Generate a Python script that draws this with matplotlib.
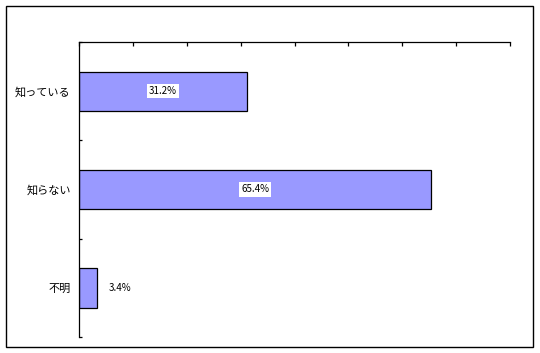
import matplotlib.pyplot as plt
from matplotlib.patches import Rectangle

plt.rcParams['font.family'] = ['Noto Sans CJK JP', 'DejaVu Sans']

# data
categories = ['知っている', '知らない', '不明']
values = [31.2, 65.4, 3.4]
value_labels = ['31.2%', '65.4%', '3.4%']

fig = plt.figure(figsize=(5.4, 3.53), dpi=100)

# outer frame of the chart area
fig.patches.append(Rectangle((5.5 / 540, 1 - 347 / 353), 527 / 540, 341.5 / 353,
                             transform=fig.transFigure, fill=False,
                             edgecolor='black', linewidth=1.0))

ax = fig.add_axes([79 / 540, 1 - 337 / 353, 431 / 540, 295 / 353])

y = list(range(len(categories)))
ax.barh(y, values, height=0.4, color='#9999FF', edgecolor='black', linewidth=0.9)

ax.set_xlim(0, 80)
ax.set_ylim(2.5, -0.5)

# spines: only left and top
ax.spines['right'].set_visible(False)
ax.spines['bottom'].set_visible(False)
ax.spines['left'].set_linewidth(0.9)
ax.spines['top'].set_linewidth(0.9)

ax.xaxis.set_ticks_position('top')
ax.set_xticks(range(0, 81, 10))
ax.set_xticklabels([])
ax.tick_params(axis='x', direction='in', length=3, width=0.9)

# category labels at the centres, tick marks at the boundaries
ax.set_yticks(y)
ax.set_yticklabels(categories, fontsize=8)
ax.tick_params(axis='y', which='major', length=0, pad=6)
ax.set_yticks([-0.5, 0.5, 1.5, 2.5], minor=True)
ax.tick_params(axis='y', which='minor', direction='in', length=2.5, width=0.9)

for i, (v, lab) in enumerate(zip(values, value_labels)):
    if v > 10:
        ax.text(v / 2, i, lab, ha='center', va='center', fontsize=7,
                bbox=dict(facecolor='white', edgecolor='none', pad=1.5))
    else:
        ax.text(v + 4.2, i, lab, ha='center', va='center', fontsize=7)

fig.savefig('out.png', dpi=100)
